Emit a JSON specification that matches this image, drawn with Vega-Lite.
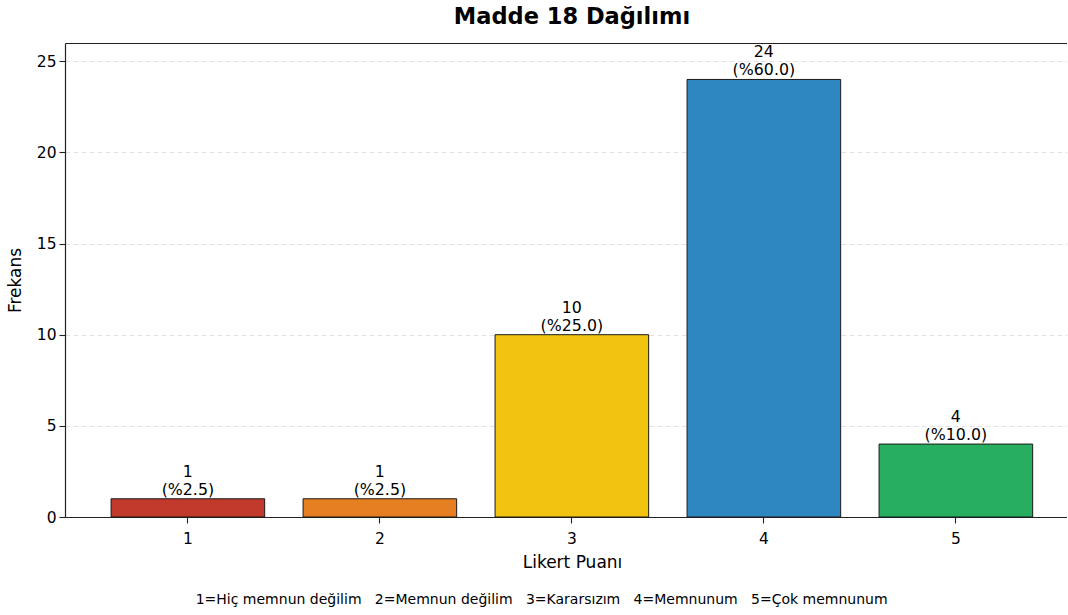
{
  "$schema": "https://vega.github.io/schema/vega-lite/v6.json",
  "padding": {"left": 6, "top": 5, "right": 0, "bottom": 2},
  "config": {
    "font": "DejaVu Sans",
    "view": {"stroke": null},
    "axis": {
      "labelFont": "DejaVu Sans",
      "titleFont": "DejaVu Sans",
      "labelColor": "#000",
      "titleColor": "#000",
      "domainColor": "#222",
      "domainWidth": 1.2,
      "tickColor": "#222",
      "tickWidth": 1.1,
      "tickSize": 6,
      "labelFontSize": 15.5,
      "titleFontSize": 17,
      "titleFontWeight": "normal"
    }
  },
  "title": {
    "text": "1=Hiç memnun değilim\u00a0\u00a0\u00a02=Memnun değilim\u00a0\u00a0\u00a03=Kararsızım\u00a0\u00a0\u00a04=Memnunum\u00a0\u00a0\u00a05=Çok memnunum",
    "orient": "bottom",
    "anchor": "middle",
    "fontSize": 14,
    "fontWeight": "normal",
    "font": "DejaVu Sans",
    "color": "#000",
    "offset": 22,
    "dx": 5
  },
  "vconcat": [
    {
      "title": {
        "text": "Madde 18 Dağılımı",
        "fontSize": 22.5,
        "fontWeight": "bold",
        "font": "DejaVu Sans",
        "color": "#000",
        "offset": 15,
        "anchor": "middle",
        "frame": "group",
        "dx": 6
      },
      "width": 1002,
      "height": 474,
      "data": {
        "values": [
          {"score": "1", "count": 1, "label": "1\n(%2.5)"},
          {"score": "2", "count": 1, "label": "1\n(%2.5)"},
          {"score": "3", "count": 10, "label": "10\n(%25.0)"},
          {"score": "4", "count": 24, "label": "24\n(%60.0)"},
          {"score": "5", "count": 4, "label": "4\n(%10.0)"}
        ]
      },
      "encoding": {
        "y": {
          "field": "count",
          "type": "quantitative",
          "title": "Frekans",
          "scale": {"domain": [0, 26], "nice": false, "zero": true},
          "axis": {
            "values": [0, 5, 10, 15, 20, 25],
            "grid": true,
            "gridColor": "#e3e3e3",
            "gridDash": [5, 3],
            "gridWidth": 1,
            "labelPadding": 3,
            "titlePadding": 12
          }
        }
      },
      "layer": [
        {
          "mark": {"type": "bar", "stroke": "#1a1a1a", "strokeWidth": 1},
          "encoding": {
            "x": {
              "field": "score",
              "type": "nominal",
              "scale": {"paddingInner": 0.2, "paddingOuter": 0.2094, "align": 0.573},
              "axis": {
                "orient": "bottom",
                "title": "Likert Puanı",
                "titleX": 507,
                "labelAngle": 0,
                "labelPadding": 8,
                "titlePadding": 8,
                "grid": false
              }
            },
            "color": {
              "field": "score",
              "type": "nominal",
              "scale": {"domain": ["1", "2", "3", "4", "5"], "range": ["#c0392b", "#e67e22", "#f1c40f", "#2e86c1", "#27ae60"]},
              "legend": null
            }
          }
        },
        {
          "mark": {"type": "text", "baseline": "bottom", "align": "center", "lineBreak": "\n", "fontSize": 15.8, "lineHeight": 18, "dy": -19, "color": "#000", "font": "DejaVu Sans"},
          "encoding": {
            "x": {
              "field": "score",
              "type": "nominal",
              "axis": {"orient": "top", "labels": false, "ticks": false, "title": null, "grid": false, "domain": true}
            },
            "text": {"field": "label", "type": "nominal"}
          }
        }
      ],
      "resolve": {"axis": {"x": "independent"}}
    }
  ]
}
